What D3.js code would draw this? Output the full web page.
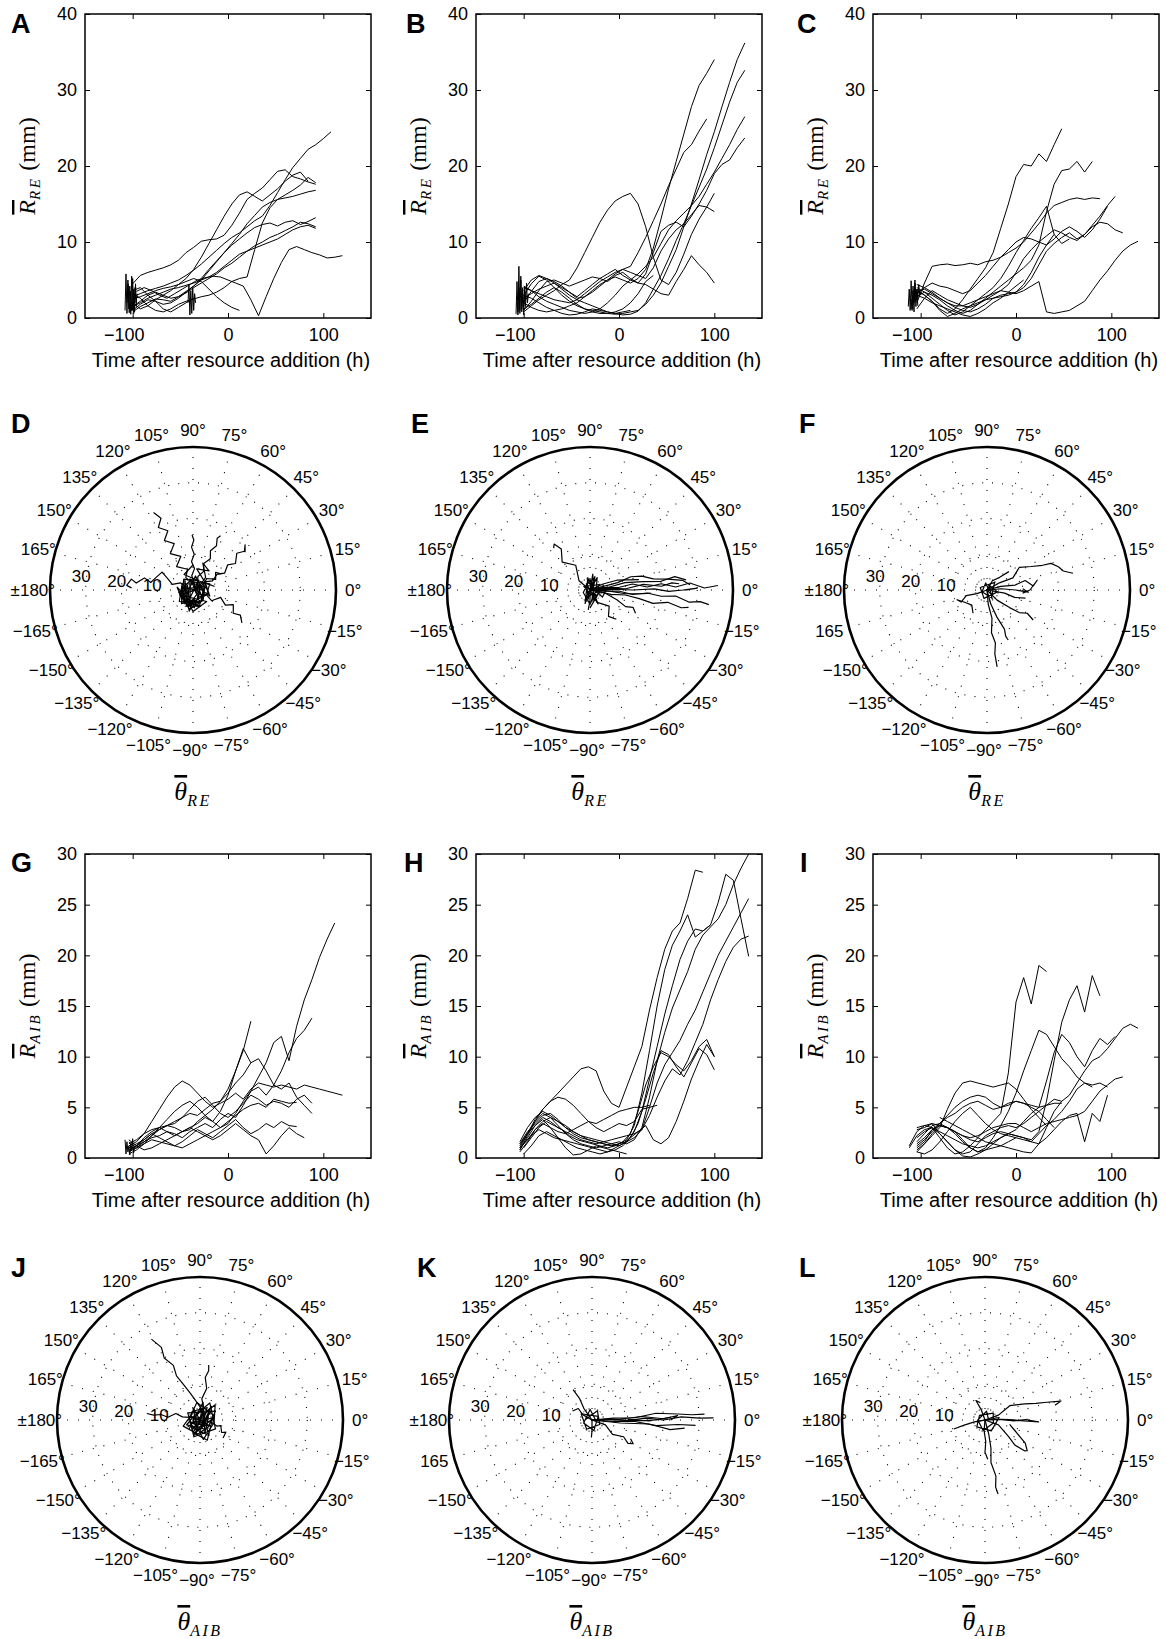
<!DOCTYPE html>
<html>
<head>
<meta charset="utf-8">
<script src="https://cdn.jsdelivr.net/npm/d3@7"></script>
<style>
body { margin: 0; background: #fff; }
text { font-family: "Liberation Sans", Arial, Helvetica, sans-serif; fill: #000; }
</style>
</head>
<body>
<svg id="fig" width="1166" height="1639"></svg>
<script>
// ---- shared axis values ----
var xDomain = [-150, 150];
var xTicks = [-100, 0, 100];
var yTicksRE = [0, 10, 20, 30, 40];
var yTicksAIB = [0, 5, 10, 15, 20, 25, 30];
var polarRMax = 40;
var polarRings = [10, 20, 30];
var polarAngles = [0, 15, 30, 45, 60, 75, 90, 105, 120, 135, 150, 165, 180, -165, -150, -135, -120, -105, -90, -75, -60, -45, -30, -15];

// ---- R_RE traces (time start, step in h, radius in mm) ----
var tracesA = [
    { t0: -100, dt: 8, r: [4.5, 5.6, 6.0, 6.3, 6.6, 7.0, 7.6, 8.6, 9.3, 10.1, 10.3, 10.4, 10.9, 12.2, 13.8, 15.6, 16.4, 17.1, 18.2, 19.3, 19.5, 18.6, 18.3, 17.9, 17.6] },
    { t0: -100, dt: 8, r: [2.8, 3.2, 3.6, 3.9, 4.2, 4.6, 5.0, 5.6, 6.3, 7.1, 8.0, 8.9, 9.8, 10.6, 11.2, 12.0, 12.8, 13.4, 14.8, 16.5, 18.2, 19.8, 21.0, 22.2, 22.8, 23.6, 24.5] },
    { t0: -100, dt: 8, r: [1.5, 2.2, 3.0, 3.4, 3.0, 2.6, 2.8, 3.5, 4.2, 5.0, 6.2, 7.4, 8.6, 9.6, 10.4, 11.2, 11.9, 12.3, 12.5, 12.1, 12.6, 12.8, 12.3, 12.7, 13.2] },
    { t0: -100, dt: 8, r: [0.8, 1.5, 2.0, 2.5, 2.4, 2.2, 2.8, 3.3, 4.0, 4.6, 5.2, 5.8, 6.6, 7.2, 8.0, 8.8, 9.5, 10.0, 10.6, 11.0, 11.5, 12.0, 12.6, 12.4, 12.0] },
    { t0: -96, dt: 8, r: [3.5, 4.0, 3.6, 3.0, 2.6, 3.2, 3.8, 4.4, 5.0, 5.3, 5.5, 5.4, 5.0, 4.6, 4.2, 2.4, 0.3, 2.8, 5.2, 7.3, 9.0, 9.4, 9.0, 8.6, 8.3, 7.9, 8.0, 8.2] },
    { t0: -100, dt: 8, r: [1.0, 1.8, 2.4, 2.2, 1.8, 2.0, 2.6, 3.4, 4.2, 5.2, 6.4, 7.5, 8.6, 9.8, 11.0, 12.4, 13.5, 14.6, 15.2, 15.6, 15.8, 16.0, 16.3, 16.6, 16.8] },
    { t0: -100, dt: 8, r: [2.0, 1.2, 1.6, 2.4, 3.0, 3.6, 4.4, 5.2, 6.4, 8.0, 9.8, 11.6, 13.4, 15.0, 16.2, 16.6, 16.0, 15.4, 16.2, 17.0, 18.0, 18.8, 19.2, 18.0] },
    { t0: -100, dt: 8, r: [1.5, 2.0, 2.6, 3.0, 3.4, 3.8, 4.0, 4.3, 4.6, 5.0, 5.4, 6.0, 6.8, 7.6, 8.4, 8.8, 9.2, 9.6, 10.0, 10.4, 11.0, 11.6, 12.0, 12.2, 11.8] },
    { t0: -100, dt: 8, r: [2.5, 2.8, 3.2, 3.6, 3.9, 4.1, 4.4, 4.8, 5.2, 4.8, 3.8, 2.8, 2.0, 1.4, 1.0] },
    { t0: -100, dt: 8, r: [3.2, 2.6, 1.6, 1.0, 0.8, 1.2, 1.8, 2.2, 2.5, 2.8, 3.0, 3.4, 4.0, 4.8, 5.2, 5.4, 9.0, 12.5, 14.5, 15.6, 16.2, 16.8, 17.5, 18.5, 17.8] },
    { t0: -100, dt: 8, r: [3.6, 4.0, 3.0, 2.2, 1.2, 0.8, 1.4, 2.0, 2.6] },
    { t0: -108, dt: 1, r: [1.0, 5.8, 0.6, 5.0, 1.2, 4.2, 0.5, 5.5, 1.0, 3.8, 0.8, 4.5, 1.5] },
    { t0: -106, dt: 1.2, r: [2.0, 4.5, 0.7, 3.5, 1.0, 5.2, 0.6, 4.0, 2.0, 3.2] },
    { t0: -42, dt: 1, r: [2.0, 4.4, 0.4, 3.6, 0.6, 4.0, 1.0, 3.2, 2.0] }
];
var tracesB = [
    { t0: -100, dt: 8, r: [3.0, 4.5, 5.5, 5.0, 4.0, 3.0, 2.2, 1.6, 1.2, 1.0, 0.8, 0.6, 0.5, 0.6, 0.8, 1.0, 1.8, 3.0, 4.6, 6.8, 9.0, 12.0, 15.0, 18.2, 21.5, 24.5, 27.8, 31.0, 34.0, 36.2] },
    { t0: -100, dt: 8, r: [2.0, 3.5, 4.8, 5.2, 4.6, 3.8, 3.0, 2.4, 2.0, 1.6, 1.2, 0.8, 0.6, 0.4, 0.5, 0.9, 2.0, 3.8, 5.6, 7.8, 10.2, 12.4, 14.8, 17.2, 19.6, 22.4, 25.4, 28.4, 31.0, 32.6] },
    { t0: -100, dt: 8, r: [4.0, 3.6, 2.8, 2.2, 1.8, 1.4, 1.0, 0.8, 0.6, 0.8, 1.2, 2.0, 3.0, 4.2, 5.0, 5.8, 6.8, 8.0, 9.8, 11.6, 12.8, 13.8, 14.8, 16.0, 17.6, 19.2, 21.0, 22.8, 24.8, 26.5] },
    { t0: -100, dt: 8, r: [1.0, 2.2, 3.6, 4.8, 5.0, 4.6, 4.2, 4.6, 5.0, 5.4, 5.2, 4.8, 5.6, 6.0, 5.2, 4.6, 5.8, 8.6, 11.4, 12.2, 12.6, 12.0, 13.4, 15.0, 16.8, 19.0, 20.2, 20.8, 22.4, 23.7] },
    { t0: -100, dt: 8, r: [3.6, 5.0, 5.6, 5.2, 4.8, 4.2, 3.4, 2.6, 2.8, 3.4, 4.2, 5.0, 5.8, 6.4, 6.8, 8.6, 10.6, 12.8, 15.0, 17.4, 19.6, 21.8, 22.8, 24.6, 26.2] },
    { t0: -100, dt: 8, r: [2.0, 1.4, 1.0, 0.8, 1.0, 1.2, 1.6, 2.0, 2.8, 3.6, 4.4, 5.0, 5.4, 5.0, 4.6, 5.2, 6.4, 9.2, 13.0, 17.0, 20.6, 24.2, 27.8, 30.6, 32.2, 34.0] },
    { t0: -100, dt: 8, r: [0.8, 1.6, 2.4, 3.0, 3.6, 4.4, 5.0, 6.6, 8.6, 10.6, 12.6, 14.2, 15.4, 16.0, 16.4, 15.0, 12.0, 8.0, 5.0, 4.4, 6.0, 8.4, 11.0, 13.0, 14.6, 16.4] },
    { t0: -100, dt: 8, r: [4.2, 3.6, 3.2, 2.8, 2.4, 2.2, 2.0, 2.4, 3.2, 4.0, 4.8, 5.4, 6.0, 6.4, 6.0, 5.6, 5.2, 6.6, 8.8, 10.4, 11.6, 12.4, 13.6, 14.8, 14.6, 14.0] },
    { t0: -100, dt: 8, r: [2.6, 3.2, 3.8, 4.2, 4.6, 4.0, 3.4, 2.8, 3.6, 4.4, 5.2, 5.8, 6.4, 5.6, 5.0, 4.6, 4.4, 3.8, 3.2, 3.0, 4.8, 6.4, 8.2, 7.0, 6.0, 4.6] },
    { t0: -100, dt: 8, r: [3.0, 2.6, 2.0, 1.4, 1.0, 0.6, 0.4, 0.5, 0.8, 1.2, 1.0, 0.8, 0.6, 0.8, 1.0] },
    { t0: -100, dt: 8, r: [1.2, 1.8, 2.6, 3.4, 4.0, 3.4, 2.6, 1.8, 1.2, 0.8, 0.6, 0.6, 0.8, 1.2, 2.0, 3.2, 4.8, 5.6] },
    { t0: -108, dt: 1, r: [0.5, 4.8, 0.8, 6.8, 0.6, 5.5, 1.2, 4.0, 0.4, 3.5, 1.5, 4.6, 2.0, 3.2] },
    { t0: -107, dt: 1, r: [2.0, 0.4, 4.0, 1.0, 5.0, 0.8, 3.0, 1.5, 4.2, 2.5] }
];
var tracesC = [
    { t0: -104, dt: 8, r: [3.6, 3.0, 2.2, 1.2, 0.6, 1.2, 2.4, 3.8, 5.2, 6.6, 8.6, 11.8, 15.0, 18.6, 20.2, 20.0, 21.6, 20.6, 22.8, 24.9] },
    { t0: -104, dt: 8, r: [2.8, 3.4, 3.0, 2.4, 1.6, 1.0, 0.6, 1.0, 1.8, 2.6, 3.4, 4.2, 5.0, 5.8, 6.6, 7.6, 9.6, 14.0, 17.6, 19.4, 19.6, 20.6, 19.2, 20.6] },
    { t0: -104, dt: 8, r: [4.4, 4.0, 3.4, 2.6, 2.0, 1.4, 1.0, 0.8, 1.2, 1.8, 2.6, 3.0, 3.2, 3.4, 4.0, 5.2, 7.0, 8.8, 9.8, 10.6, 11.2, 10.4, 11.0, 12.2, 13.4, 14.8, 16.0] },
    { t0: -104, dt: 8, r: [2.0, 4.6, 6.8, 7.0, 7.1, 6.9, 7.0, 7.2, 7.0, 7.4, 7.6, 8.0, 8.6, 9.2, 10.0, 11.2, 12.4, 13.8, 14.8, 15.2, 15.6, 15.8, 15.6, 15.8, 15.7] },
    { t0: -104, dt: 8, r: [3.2, 4.0, 4.6, 4.2, 4.0, 3.6, 3.2, 3.6, 4.6, 5.6, 6.8, 8.0, 9.0, 10.0, 10.6, 10.4, 10.0, 9.6, 10.4, 11.4, 12.0, 11.4, 10.6, 11.6, 13.0, 14.7] },
    { t0: -104, dt: 8, r: [1.2, 2.6, 3.6, 3.0, 2.4, 2.0, 1.6, 1.4, 1.8, 2.4, 3.0, 3.6, 4.4, 6.0, 7.8, 9.0, 10.0, 10.8, 11.6, 11.2, 10.6, 10.2, 11.0, 12.0, 12.6, 12.4, 11.6, 11.2] },
    { t0: -104, dt: 8, r: [3.4, 3.8, 3.2, 2.6, 2.0, 1.6, 1.6, 2.0, 2.4, 2.8, 3.2, 3.6, 3.4, 3.2, 3.6, 4.2, 4.8, 0.8, 0.6, 0.8, 1.0, 1.6, 2.2, 3.6, 5.0, 6.2, 7.6, 8.8, 9.6, 10.1] },
    { t0: -104, dt: 8, r: [4.0, 3.4, 2.6, 1.8, 1.0, 0.4, 0.8, 1.6, 2.4, 3.2, 4.0, 5.2, 6.8, 8.6, 10.2, 11.8, 13.2, 14.7, 11.0, 9.8, 10.4] },
    { t0: -104, dt: 8, r: [3.8, 3.0, 2.2, 1.0, 0.2, 0.6, 1.2, 1.6, 2.0, 2.4, 2.6, 2.8, 3.0, 3.4, 4.4, 6.0, 8.0, 9.6, 11.0] },
    { t0: -104, dt: 8, r: [3.0, 2.6, 2.0, 1.6, 1.2, 0.8, 0.4, 0.2, 0.6, 1.2, 2.0, 2.6, 3.4, 4.2, 5.0] },
    { t0: -113, dt: 1, r: [1.5, 3.8, 1.0, 4.9, 1.2, 4.2, 2.0, 5.0, 1.5, 3.6, 2.6, 4.4, 3.0] },
    { t0: -110, dt: 1, r: [2.5, 1.0, 3.6, 0.8, 4.6, 2.2, 3.8, 1.6] }
];

// ---- R_AIB traces ----
var tracesG = [
    { t0: -104, dt: 8, r: [0.8, 1.2, 1.6, 2.0, 2.2, 2.6, 2.4, 2.0, 2.6, 3.0, 3.4, 3.0, 3.8, 4.4, 4.0, 5.2, 6.6, 8.0, 9.4, 11.4, 12.0, 9.6, 13.0, 15.6, 17.6, 19.8, 21.6, 23.2] },
    { t0: -104, dt: 8, r: [1.6, 1.0, 1.4, 2.2, 2.8, 3.2, 3.0, 2.6, 2.8, 3.6, 4.2, 4.8, 5.6, 6.4, 7.4, 8.2, 9.4, 9.8, 8.6, 7.2, 8.6, 10.4, 11.8, 12.6, 13.8] },
    { t0: -104, dt: 8, r: [0.6, 1.2, 2.0, 2.6, 3.0, 3.2, 3.4, 4.0, 4.4, 4.2, 4.8, 5.4, 5.6, 6.8, 8.6, 10.6, 13.5] },
    { t0: -104, dt: 8, r: [1.4, 1.8, 2.4, 2.8, 3.0, 2.6, 2.2, 2.6, 3.0, 3.4, 4.0, 3.6, 4.6, 6.2, 8.6, 10.8, 9.4] },
    { t0: -104, dt: 8, r: [1.2, 1.6, 2.4, 3.6, 4.8, 6.0, 7.0, 7.6, 7.2, 6.4, 5.6, 5.0, 5.4, 5.8, 6.4, 5.8, 6.8, 7.4, 7.2, 7.0, 7.2, 7.0, 6.8, 7.2, 7.0, 6.8, 6.6, 6.4, 6.2] },
    { t0: -104, dt: 8, r: [0.6, 1.0, 1.6, 2.2, 3.0, 3.8, 4.6, 5.2, 5.6, 5.0, 4.2, 3.6, 3.0, 3.4, 4.4, 5.6, 6.6, 7.0, 6.2, 7.2, 6.8, 7.4, 6.0, 5.2, 4.4] },
    { t0: -104, dt: 8, r: [1.0, 1.4, 1.8, 2.4, 2.8, 3.2, 3.6, 4.0, 4.8, 5.6, 6.0, 5.2, 4.4, 4.0, 4.6, 5.4, 6.2, 5.8, 5.2, 5.6, 5.4, 5.0, 5.8, 6.2, 5.4] },
    { t0: -104, dt: 8, r: [0.4, 0.8, 1.4, 1.8, 1.6, 1.4, 1.2, 1.6, 2.2, 2.8, 2.4, 2.0, 2.6, 3.2, 3.8, 3.0, 2.4, 2.8, 3.4, 3.0, 3.6, 3.2, 3.1] },
    { t0: -104, dt: 8, r: [1.8, 1.2, 0.8, 1.0, 1.4, 1.8, 2.2, 2.6, 3.0, 2.6, 2.2, 1.8, 2.2, 2.8, 3.4, 2.8, 2.2, 1.8, 0.4, 1.2, 2.2, 3.0, 2.4, 2.0] },
    { t0: -104, dt: 8, r: [0.8, 1.2, 1.8, 2.4, 2.0, 1.6, 1.2, 1.0, 1.4, 1.8, 2.2, 2.6, 3.0, 3.6, 4.2, 4.8, 5.2, 5.4, 5.0, 5.8, 5.6, 5.4, 5.5] },
    { t0: -108, dt: 1, r: [1.8, 0.4, 1.6, 0.6, 1.2, 0.3, 1.4, 0.8, 1.9, 0.5, 1.1] }
];
var tracesH = [
    { t0: -104, dt: 8, r: [1.0, 2.4, 3.8, 4.8, 5.6, 6.4, 7.2, 8.0, 8.8, 9.0, 8.6, 6.6, 5.4, 5.0, 7.0, 9.0, 11.0, 14.6, 17.8, 20.6, 22.4, 23.2, 25.6, 28.4, 28.2] },
    { t0: -104, dt: 8, r: [1.2, 2.4, 3.6, 4.4, 4.0, 3.2, 2.4, 1.8, 1.4, 1.2, 1.0, 1.2, 1.4, 1.6, 1.4, 1.8, 3.0, 6.0, 9.6, 12.4, 14.8, 16.6, 18.4, 20.6, 22.0, 22.8, 23.6, 25.0, 27.0, 28.6, 30.0] },
    { t0: -104, dt: 8, r: [1.6, 3.0, 4.0, 4.6, 4.2, 3.6, 3.0, 2.4, 2.0, 1.8, 1.6, 1.4, 1.2, 1.4, 1.6, 2.0, 2.8, 5.0, 7.4, 9.2, 10.4, 11.6, 13.2, 14.6, 16.4, 18.2, 20.0, 21.4, 22.8, 24.2, 25.6] },
    { t0: -104, dt: 8, r: [0.8, 2.0, 3.2, 4.0, 3.6, 3.0, 2.6, 2.2, 1.8, 1.6, 1.4, 1.6, 1.8, 2.0, 2.2, 2.4, 2.8, 4.2, 6.0, 7.6, 8.8, 8.2, 9.6, 11.4, 13.2, 15.6, 17.6, 19.4, 20.8, 21.6, 21.9] },
    { t0: -104, dt: 8, r: [1.4, 2.6, 3.4, 4.2, 4.4, 3.8, 3.0, 2.6, 2.2, 2.0, 1.8, 1.6, 1.4, 1.2, 1.6, 2.6, 4.6, 7.8, 11.0, 14.2, 17.0, 19.6, 21.4, 22.6, 22.4, 23.0, 25.2, 28.0, 27.4, 23.6, 19.9] },
    { t0: -104, dt: 8, r: [0.6, 1.6, 2.8, 3.6, 4.0, 3.6, 3.2, 2.6, 2.2, 1.8, 1.6, 1.4, 1.2, 1.4, 1.8, 3.2, 6.4, 10.6, 15.0, 18.6, 21.0, 22.4, 24.0, 21.8, 22.4, 23.0] },
    { t0: -100, dt: 8, r: [1.0, 2.0, 3.0, 3.6, 3.2, 2.8, 2.2, 1.8, 1.6, 1.4, 1.2, 1.0, 1.2, 1.6, 2.4, 4.6, 7.2, 9.0, 10.4, 10.0, 9.2, 8.6, 9.6, 11.0, 11.7, 10.0] },
    { t0: -100, dt: 8, r: [1.4, 2.2, 2.8, 2.4, 2.0, 1.8, 1.6, 1.4, 1.2, 1.0, 0.8, 0.6, 0.8, 1.2, 2.0, 3.4, 5.8, 8.4, 10.6, 10.2, 9.0, 8.0, 9.4, 10.8, 10.2, 8.7] },
    { t0: -100, dt: 8, r: [0.4, 1.2, 2.2, 2.6, 2.2, 1.8, 1.4, 1.0, 0.8, 0.6, 0.4, 0.6, 1.0, 1.4, 2.0, 2.6, 3.2, 1.8, 1.4, 2.0, 3.6, 5.6, 7.8, 9.6, 11.2, 10.0] },
    { t0: -104, dt: 8, r: [0.8, 2.2, 3.6, 4.8, 5.6, 6.0, 5.8, 5.2, 4.4, 3.6, 3.0, 2.6, 3.0, 3.4, 3.2, 3.6, 4.8, 5.0, 5.2] },
    { t0: -104, dt: 8, r: [1.4, 2.4, 3.2, 3.8, 3.0, 2.0, 1.0, 0.3, 0.4, 0.8, 1.2, 1.0, 0.8, 0.6, 0.4] },
    { t0: -104, dt: 8, r: [1.0, 1.8, 2.8, 3.4, 3.0, 2.6, 2.4, 2.8, 3.2, 3.6, 3.4, 3.8, 4.2, 4.6, 4.8, 5.0, 5.0, 5.2] }
];
var tracesI = [
    { t0: -112, dt: 8, r: [1.2, 2.6, 3.2, 3.0, 2.0, 1.0, 0.4, 0.6, 1.2, 2.0, 2.8, 3.6, 4.4, 8.4, 15.4, 17.8, 15.2, 19.0, 18.4] },
    { t0: -104, dt: 8, r: [1.0, 1.6, 2.8, 3.2, 3.0, 2.6, 2.2, 1.8, 1.6, 2.0, 2.4, 2.6, 2.4, 2.2, 2.0, 1.8, 2.6, 5.6, 9.6, 13.4, 15.6, 17.0, 14.4, 18.0, 16.0] },
    { t0: -104, dt: 8, r: [0.6, 1.4, 2.4, 3.2, 3.0, 2.6, 1.8, 1.0, 0.6, 1.0, 2.0, 3.2, 4.6, 6.4, 8.6, 10.6, 12.6, 12.2, 11.0, 9.8, 9.0, 8.0, 7.4, 7.0] },
    { t0: -112, dt: 8, r: [1.0, 2.2, 2.8, 3.0, 2.4, 1.6, 0.8, 0.4, 0.6, 1.4, 2.2, 2.6, 3.0, 3.2, 3.0, 3.4, 4.0, 4.6, 5.2, 5.8, 5.6, 6.2, 7.4, 8.6, 9.6, 10.0, 10.8, 11.8, 12.8, 13.2, 12.8] },
    { t0: -104, dt: 8, r: [1.6, 2.4, 3.2, 3.4, 3.0, 2.4, 1.6, 1.0, 0.6, 0.8, 1.4, 2.0, 2.4, 2.8, 3.6, 4.4, 5.0, 7.6, 10.4, 12.2, 11.4, 10.0, 9.0, 10.6, 11.8, 11.2, 12.0] },
    { t0: -104, dt: 8, r: [3.0, 3.2, 3.4, 3.2, 3.0, 2.6, 2.2, 2.0, 2.2, 2.6, 3.0, 3.2, 3.4, 3.4, 3.0, 2.6, 3.0, 3.4, 3.6, 3.8, 4.0, 4.2, 4.6, 5.6, 6.6, 7.2, 7.8, 8.0] },
    { t0: -104, dt: 8, r: [2.0, 2.6, 3.0, 2.6, 2.2, 1.8, 1.4, 1.2, 1.0, 1.2, 1.6, 2.0, 2.4, 2.2, 2.0, 1.6, 2.4, 3.2, 3.8, 4.6, 5.6, 6.8, 7.4, 7.2, 7.4, 7.0] },
    { t0: -104, dt: 8, r: [1.2, 1.8, 2.6, 3.4, 4.0, 4.4, 5.0, 5.4, 5.6, 5.2, 4.8, 5.0, 5.4, 5.6, 5.4, 5.2, 5.0, 5.2, 5.4, 5.4] },
    { t0: -104, dt: 8, r: [0.8, 1.4, 2.2, 3.0, 4.8, 6.4, 7.4, 7.6, 7.4, 7.2, 7.0, 7.2, 7.4, 6.8, 5.8, 4.8, 4.0, 3.2] },
    { t0: -104, dt: 8, r: [1.4, 2.0, 2.8, 3.4, 4.2, 5.0, 5.6, 6.0, 6.2, 6.0, 5.4, 5.0, 5.2, 5.6, 5.4, 5.0, 4.6, 3.8, 3.0] },
    { t0: -104, dt: 8, r: [0.6, 0.4, 0.8, 1.6, 2.6, 3.6, 4.4, 5.0, 4.2, 3.4, 2.8, 2.4, 2.2, 2.0, 1.8, 1.6, 1.4, 2.0, 2.8, 3.6, 4.2, 4.4, 1.6, 4.4, 3.6, 6.2] },
    { t0: -104, dt: 8, r: [2.8, 3.0, 3.4, 2.4, 1.6, 0.8, 0.2, 0.1, 0.4, 0.8, 1.0, 1.2, 1.6, 2.0] },
    { t0: -80, dt: 8, r: [4.0, 3.6, 3.2, 2.8, 2.4, 2.0, 1.6, 1.4, 1.2, 1.0, 0.8, 0.6, 0.5, 1.4, 3.0, 4.6, 5.6] }
];

// ---- polar trajectories: [angle in degrees, radius in mm] ----
var pathsD = [
    [[0, 0.5], [95, 2], [120, 4], [105, 6], [125, 8], [110, 10], [122, 12], [112, 14], [120, 16], [113, 18], [119, 20], [114, 22], [117, 24.3]],
    [[0, 0.5], [80, 2], [95, 4], [86, 6], [93, 8], [88, 10], [92, 12], [89, 14], [91, 15.4]],
    [[0, 0.5], [50, 2], [70, 4], [60, 6], [68, 8], [61, 10], [66, 12], [62, 14], [65, 16], [63, 17]],
    [[0, 0.5], [20, 2], [35, 4], [25, 6], [33, 8], [28, 10], [36, 12], [32, 14], [40, 16], [37, 18], [41, 19.3], [36, 18]],
    [[0, 0.5], [160, 2], [150, 4], [165, 6], [155, 8], [150, 10], [162, 11], [170, 12], [166, 14], [173, 16], [170, 17.5], [176, 18.6], [178, 17.2]],
    [[0, 0.5], [-40, 2], [-20, 4], [-30, 6], [-15, 8], [-25, 10], [-20, 12], [-30, 13], [-28, 15], [-34, 16.5]],
    [[0, 0.5], [20, 3], [40, 5], [25, 7], [38, 8], [30, 9]],
    [[0, 1], [200, 3], [250, 4.5], [300, 3], [40, 2.5], [150, 3.5], [220, 5], [280, 4], [330, 2], [100, 3], [190, 4], [260, 5.5], [310, 4], [20, 3], [170, 2], [240, 3.5], [290, 5], [350, 3], [80, 4], [210, 2]],
    [[0, 0.5], [300, 4], [230, 3], [270, 6], [320, 5], [200, 4], [250, 2], [60, 3], [130, 4], [180, 3], [230, 5], [280, 3], [340, 4], [20, 5], [110, 2.5], [260, 4.5]],
    [[0, 1], [45, 5], [70, 8], [50, 7], [80, 6], [30, 4], [10, 6], [60, 3], [120, 5], [90, 7]],
    [[0, 2], [265, 3], [275, 5], [255, 4], [285, 3.5], [245, 5], [270, 4.5], [295, 5], [235, 3], [260, 6], [280, 2.5], [250, 3.5], [300, 4], [225, 4.5], [275, 3]],
    [[0, 1.5], [180, 2.5], [210, 3.5], [160, 3], [230, 2], [190, 4], [140, 2], [250, 3], [170, 4.5], [220, 4], [200, 2], [130, 3.5], [240, 4.5], [185, 3]],
    [[0, 1], [330, 3], [20, 3.5], [350, 4.5], [300, 2.5], [10, 2], [340, 5], [30, 4], [315, 4], [0, 3], [60, 2], [320, 3.5]]
];
var pathsE = [
    [[0, 0], [10, 4], [5, 8], [8, 12], [3, 16], [5, 20], [2, 24], [4, 28], [1, 32], [2, 35.8]],
    [[0, 0], [-5, 4], [-2, 8], [-6, 12], [-3, 16], [-5, 20], [-4, 24], [-7, 28], [-6, 31], [-7, 33.5]],
    [[0, 0], [5, 5], [2, 10], [6, 15], [3, 20], [5, 23], [4, 25]],
    [[0, 0], [8, 5], [12, 10], [9, 15], [7, 20], [9, 24], [6, 27]],
    [[0, 0], [-3, 5], [-6, 10], [-4, 15], [-3, 17]],
    [[0, 0], [-10, 4], [-20, 8], [-25, 11], [-22, 13], [-27, 14.3]],
    [[0, 0], [-60, 4], [-40, 7], [-55, 9], [-48, 11]],
    [[0, 0], [140, 4], [120, 8], [135, 11], [125, 14], [128, 16.3], [131, 15.5]],
    [[0, 0], [15, 8], [18, 12], [15, 15], [10, 18], [8, 22], [6, 26], [3, 28]],
    [[0, 0], [2, 6], [0, 12], [1, 18], [-1, 22], [0, 26], [1, 30], [0, 27]],
    [[0, 0], [-90, 3], [-95, 5.6]],
    [[0, 1], [90, 3], [200, 2], [270, 4], [30, 3], [150, 2], [300, 3], [60, 4], [240, 2.5], [10, 5], [330, 4], [100, 2]],
    [[0, 0], [-12, 6], [-8, 10], [-10, 14], [-12, 18], [-9, 22], [-11, 26], [-10, 28]],
    [[0, 0], [25, 4], [20, 8], [15, 11], [12, 14]],
    [[0, 1], [280, 3], [70, 4], [250, 4], [100, 3.5], [300, 4.5], [120, 2], [260, 2.5], [80, 4.5], [290, 3], [20, 4], [270, 5]]
];
var pathsF = [
    [[0, 0], [30, 4], [25, 8], [35, 11], [28, 14], [24, 17], [22.6, 19.4], [18, 21], [14, 22], [11, 24.5]],
    [[0, 0], [15, 4], [10, 8], [14, 11], [5, 13], [11, 14.3], [0, 12], [-5, 10]],
    [[0, 0], [-85, 4], [-80, 8], [-84, 12], [-81, 15], [-83, 18], [-82.5, 21.7]],
    [[0, 0], [-75, 4], [-70, 8], [-66, 12], [-68, 14], [-67, 15.2]],
    [[0, 0], [-45, 4], [-38, 8], [-35, 11], [-30, 13], [-33, 15.4]],
    [[0, 0], [200, 3], [195, 6], [205, 8], [198, 8.8], [210, 7], [225, 6], [239, 7.6]],
    [[0, 0], [5, 4], [0, 8], [-3, 11.6], [2, 10]],
    [[0, 0], [-10, 5], [-15, 8], [-12, 11]],
    [[0, 0.5], [100, 2], [200, 1.5], [300, 2.5], [45, 3], [160, 2], [250, 2.5], [350, 3], [70, 1.5], [-60, 3]],
    [[0, 0], [60, 3], [45, 5], [40, 8]]
];
var pathsJ = [
    [[0, 0], [80, 3], [100, 5], [110, 8], [115, 11], [118, 14], [116, 17], [120, 20], [118, 23], [121, 26.4]],
    [[0, 0], [70, 3], [85, 6], [78, 9], [83, 12], [80, 14], [81, 15.6]],
    [[0, 0], [160, 2], [170, 5], [165, 7], [175, 9], [172, 11], [174, 13], [173, 15]],
    [[0, 0], [-10, 3], [-20, 5], [-15, 6], [-30, 7], [-25, 8], [-38, 8.2]],
    [[0, 1], [60, 4], [120, 3], [200, 5], [260, 4], [320, 3], [30, 5], [150, 4], [230, 3], [300, 5], [80, 3], [180, 2], [280, 5.5], [350, 4], [45, 6], [210, 4]],
    [[0, 0.5], [240, 4], [290, 6], [20, 4], [100, 5], [170, 3], [250, 5], [330, 5], [60, 5.5], [140, 2], [200, 4], [300, 3]],
    [[0, 1.5], [270, 3], [40, 4], [250, 4.5], [70, 3], [290, 4], [20, 2.5], [230, 3.5], [50, 5], [280, 2], [190, 3]],
    [[0, 2], [160, 3], [330, 3.5], [200, 2.5], [10, 4], [260, 3], [120, 4], [300, 2], [80, 5], [220, 4]]
];
var pathsK = [
    [[0, 0], [3, 5], [-1, 10], [2, 15], [0, 20], [2, 25], [1, 30], [1, 34]],
    [[0, 0], [5, 6], [3, 12], [6, 18], [4, 24], [3, 28], [3, 31.5]],
    [[0, 0], [-4, 6], [-2, 12], [-5, 18], [-3, 24], [-3, 29]],
    [[0, 0], [2, 8], [4, 14], [1, 20], [3, 24], [0, 22]],
    [[0, 0], [125, 4], [120, 7], [122, 10]],
    [[0, 0], [-20, 4], [-35, 7], [-28, 10], [-33, 12], [-30, 13.3], [-26, 12]],
    [[0, 0], [-90, 3], [-92, 4.9]],
    [[0, 0], [-6, 8], [-4, 16], [-7, 22], [-5, 26]],
    [[0, 1], [100, 3], [200, 2.5], [280, 3], [30, 2], [150, 3.5], [240, 3], [330, 2.5], [60, 3], [180, 2]],
    [[0, 0], [150, 3], [140, 5], [155, 6]],
    [[0, 0], [1, 6], [-1, 12], [0, 18], [2, 22], [-1, 16], [1, 10]]
];
var pathsL = [
    [[0, 0], [20, 4], [30, 8], [22, 12], [18, 15], [16, 18], [14, 21.9], [12, 20]],
    [[0, 0], [-75, 4], [-78, 8], [-82, 12], [-79, 16], [-81, 19], [-80, 21]],
    [[0, 0], [-20, 4], [-35, 8], [-40, 11], [-38, 14], [-36, 14.6], [-30, 13], [-20, 9], [-10, 7]],
    [[0, 0], [190, 3], [194, 6], [196, 9.1]],
    [[0, 0], [2, 5], [-1, 10], [-2, 15], [0, 12]],
    [[0, 0], [110, 3], [115, 6], [105, 5]],
    [[0, 0], [-95, 3], [-88, 6], [-90, 9], [-86, 11]],
    [[0, 1], [80, 2.5], [180, 2], [260, 3], [340, 2.5], [40, 3], [140, 2], [220, 3], [300, 3.5], [10, 4], [190, 2.5]],
    [[0, 0], [3, 4], [-2, 8], [1, 12], [-1, 9], [2, 6]]
];

var svg = d3.select('#fig');
var BOX_W = 286, BOX_H = 304, POLAR_R = 143;
var SERIF = '"Liberation Serif", "Times New Roman", serif';

function minusFormat(d) {
    return d < 0 ? '\u2212' + Math.abs(d) : String(d);
}

function panelLetter(letter, x, y) {
    svg.append('text').attr('x', x).attr('y', y)
        .style('font-size', '27px').style('font-weight', 'bold').text(letter);
}

function lineChart(left, top, traces, yMax, yTicks, sub) {
    var g = svg.append('g');
    var x = d3.scaleLinear().domain(xDomain).range([left, left + BOX_W]);
    var y = d3.scaleLinear().domain([0, yMax]).range([top + BOX_H, top]);
    var line = d3.line().x(function (d) { return x(d[0]); }).y(function (d) { return y(d[1]); });

    traces.forEach(function (tr) {
        var pts = tr.r.map(function (v, i) { return [tr.t0 + i * tr.dt, v]; });
        g.append('path').datum(pts).attr('d', line)
            .attr('fill', 'none').attr('stroke', '#000').attr('stroke-width', 1)
            .attr('stroke-linejoin', 'round');
    });

    var bottom = g.append('g').attr('transform', 'translate(0,' + (top + BOX_H) + ')')
        .call(d3.axisBottom(x).tickValues(xTicks).tickSizeInner(-5).tickSizeOuter(0).tickPadding(10).tickFormat(minusFormat));
    bottom.selectAll('text').filter(function (d) { return d < 0; }).attr('dx', -9);
    g.append('g').attr('transform', 'translate(0,' + top + ')')
        .call(d3.axisTop(x).tickValues(xTicks).tickSizeInner(-5).tickSizeOuter(0).tickFormat(''));
    g.append('g').attr('transform', 'translate(' + left + ',0)')
        .call(d3.axisLeft(y).tickValues(yTicks).tickSizeInner(-5).tickSizeOuter(0).tickPadding(8));
    g.append('g').attr('transform', 'translate(' + (left + BOX_W) + ',0)')
        .call(d3.axisRight(y).tickValues(yTicks).tickSizeInner(-5).tickSizeOuter(0).tickFormat(''));
    g.selectAll('.domain').remove();
    g.selectAll('.tick line').attr('stroke', '#000').attr('stroke-width', 1);
    g.selectAll('.tick text').style('font-size', '18px').style('font-family', '"Liberation Sans", Arial, sans-serif').attr('fill', '#000');

    g.append('rect').attr('x', left).attr('y', top).attr('width', BOX_W).attr('height', BOX_H)
        .attr('fill', 'none').attr('stroke', '#000').attr('stroke-width', 1.5);

    g.append('text').attr('x', left + BOX_W / 2 + 3).attr('y', top + BOX_H + 49)
        .attr('text-anchor', 'middle').style('font-size', '20px')
        .text('Time after resource addition (h)');

    var yl = g.append('text')
        .attr('transform', 'translate(' + (left - 50) + ',' + (top + BOX_H / 2) + ') rotate(-90)')
        .attr('text-anchor', 'middle').style('font-family', SERIF).style('font-size', '24px');
    yl.append('tspan').style('font-style', 'italic').style('text-decoration', 'overline').text('R');
    yl.append('tspan').attr('dy', 5).style('font-style', 'italic').style('font-size', '15px')
        .style('letter-spacing', '2.5px').text(sub);
    yl.append('tspan').attr('dy', -5).text(' (mm)');
}

function polarChart(cx, cy, paths, sub, plain165) {
    var g = svg.append('g').attr('transform', 'translate(' + cx + ',' + cy + ')');
    var r = d3.scaleLinear().domain([0, polarRMax]).range([0, POLAR_R]);
    var rad = function (deg) { return deg * Math.PI / 180; };

    polarAngles.forEach(function (a) {
        g.append('line').attr('x1', 0).attr('y1', 0)
            .attr('x2', r(polarRMax) * Math.cos(rad(a))).attr('y2', -r(polarRMax) * Math.sin(rad(a)))
            .attr('stroke', '#000').attr('stroke-width', 1.1).attr('stroke-dasharray', '1,10');
    });
    polarRings.forEach(function (v) {
        g.append('circle').attr('r', r(v)).attr('fill', 'none')
            .attr('stroke', '#000').attr('stroke-width', 1.1).attr('stroke-dasharray', '1,9');
    });

    var radial = d3.lineRadial()
        .angle(function (d) { return rad(90 - d[0]); })
        .radius(function (d) { return r(d[1]); });
    paths.forEach(function (p) {
        g.append('path').datum(p).attr('d', radial).attr('fill', 'none')
            .attr('stroke', '#000').attr('stroke-width', 1.2).attr('stroke-linejoin', 'round');
    });

    g.append('circle').attr('r', r(polarRMax)).attr('fill', 'none')
        .attr('stroke', '#000').attr('stroke-width', 2.6);

    polarAngles.forEach(function (a) {
        var lr = r(polarRMax) * 1.12;
        var label;
        if (a === 180) label = '\u00b1180\u00b0';
        else if (a === -165 && plain165) label = '165';
        else label = minusFormat(a) + '\u00b0';
        g.append('text').attr('x', lr * Math.cos(rad(a)) - (a < 0 && Math.cos(rad(a)) < 0.99 ? 3 : 0))
            .attr('y', -lr * Math.sin(rad(a))).attr('dy', '0.35em')
            .attr('text-anchor', 'middle').style('font-size', '17px').text(label);
    });

    polarRings.forEach(function (v) {
        var rr = r(v + 1.5);
        g.append('text').attr('x', rr * Math.cos(rad(173))).attr('y', -rr * Math.sin(rad(173)))
            .attr('dy', '0.35em').attr('text-anchor', 'middle').style('font-size', '17px').text(v);
    });

    var tl = g.append('text').attr('x', 0).attr('y', 210).attr('text-anchor', 'middle')
        .style('font-family', SERIF).style('font-size', '26px');
    tl.append('tspan').style('font-style', 'italic').style('text-decoration', 'overline').text('\u03b8');
    tl.append('tspan').attr('dy', 6).style('font-style', 'italic').style('font-size', '16px')
        .style('letter-spacing', '2.5px').text(sub);
}

// row 1
lineChart(85, 14, tracesA, 40, yTicksRE, 'RE');
lineChart(476, 14, tracesB, 40, yTicksRE, 'RE');
lineChart(873, 14, tracesC, 40, yTicksRE, 'RE');
panelLetter('A', 11, 33);
panelLetter('B', 406, 33);
panelLetter('C', 797, 33);

// row 2
polarChart(193, 590, pathsD, 'RE', false);
polarChart(590, 590, pathsE, 'RE', false);
polarChart(987, 590, pathsF, 'RE', true);
panelLetter('D', 11, 433);
panelLetter('E', 411, 433);
panelLetter('F', 799, 433);

// row 3
lineChart(85, 854, tracesG, 30, yTicksAIB, 'AIB');
lineChart(476, 854, tracesH, 30, yTicksAIB, 'AIB');
lineChart(873, 854, tracesI, 30, yTicksAIB, 'AIB');
panelLetter('G', 11, 872);
panelLetter('H', 404, 872);
panelLetter('I', 800, 872);

// row 4
polarChart(200, 1420, pathsJ, 'AIB', false);
polarChart(592, 1420, pathsK, 'AIB', true);
polarChart(985, 1420, pathsL, 'AIB', false);
panelLetter('J', 11, 1277);
panelLetter('K', 417, 1277);
panelLetter('L', 799, 1277);
</script>
</body>
</html>
